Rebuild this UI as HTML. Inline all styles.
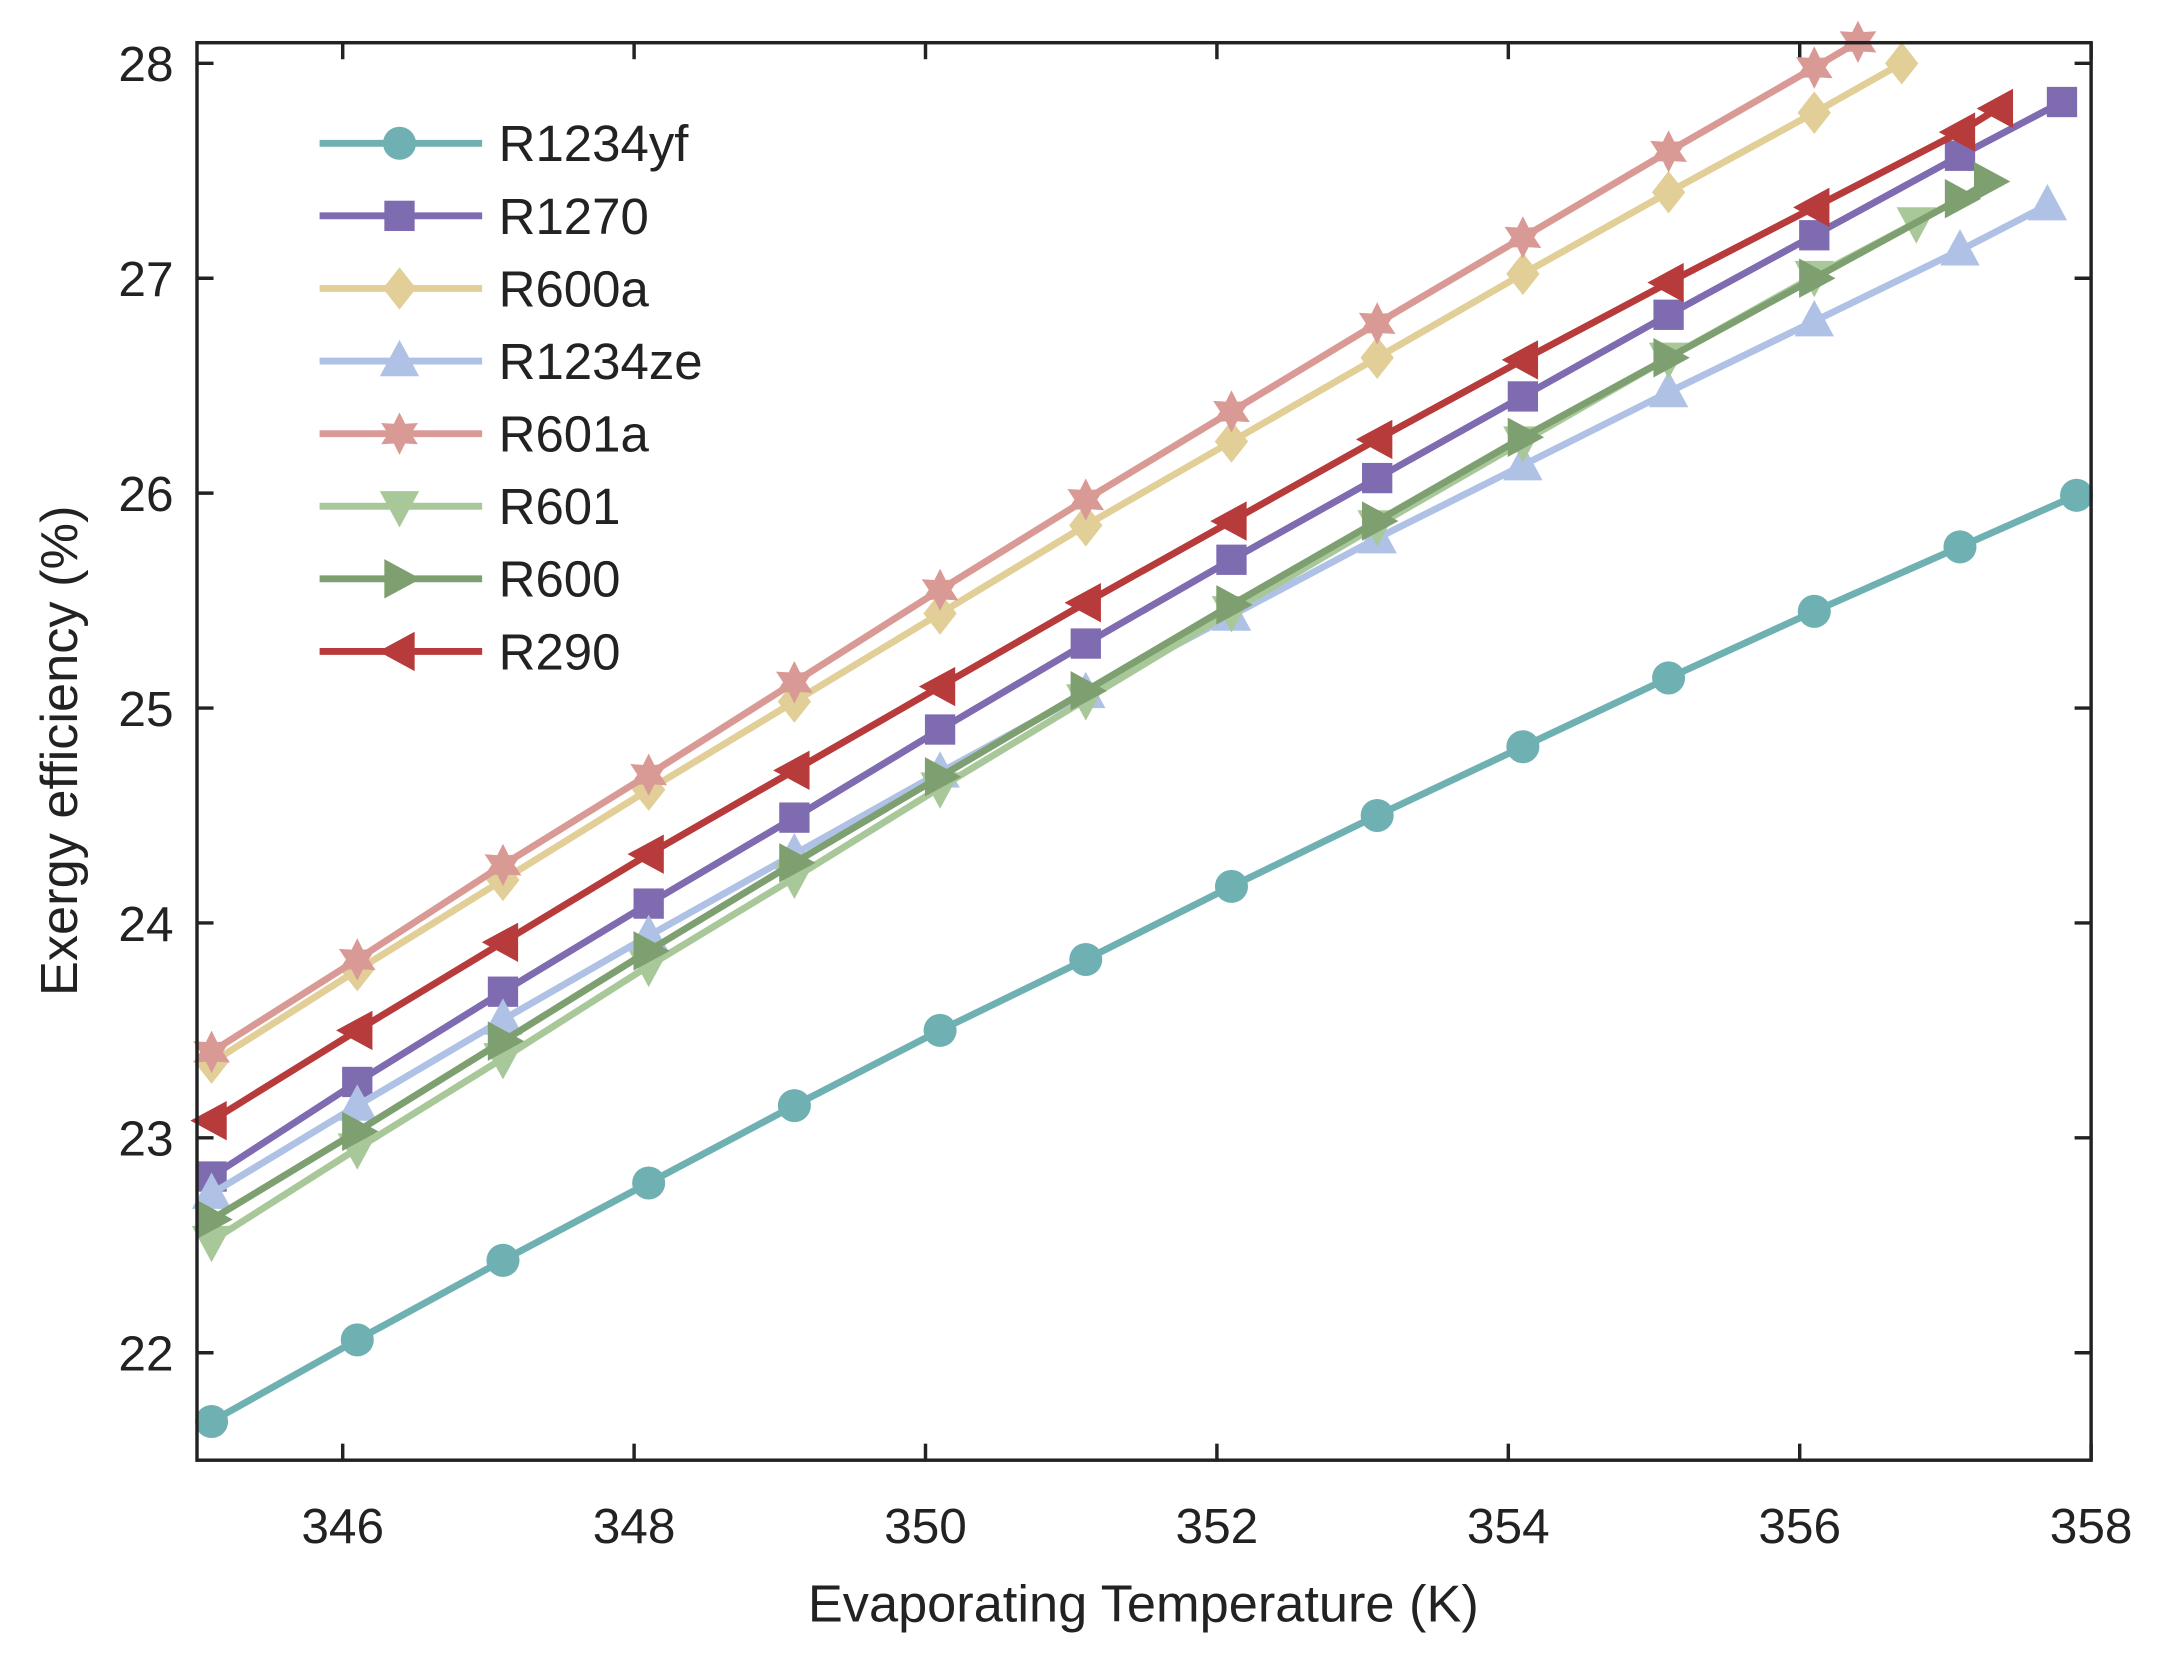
<!DOCTYPE html>
<html><head><meta charset="utf-8"><style>
html,body{margin:0;padding:0;background:#fff}
svg{display:block}
text{font-family:"Liberation Sans",Arial,sans-serif;fill:#222}
</style></head><body>
<svg id="chart" width="2160" height="1662" viewBox="0 0 1568 1206.5" xmlns="http://www.w3.org/2000/svg">
<rect x="0" y="0" width="1568" height="1206.5" fill="#fff"/>
<g id="ticks"></g>
<g id="series"></g>
<rect x="143" y="31" width="1375" height="1029" fill="none" stroke="#222" stroke-width="2.5"/>
<g id="legend"></g>
<text x="830" y="1177" font-size="38" text-anchor="middle">Evaporating Temperature (K)</text>
<text transform="translate(56,545) rotate(-90)" font-size="38" text-anchor="middle">Exergy efficiency (%)</text>
</svg>
<script>
const xTicks=[346,348,350,352,354,356,358];
const yTicks=[22,23,24,25,26,27,28];
const names=["R1234yf","R1270","R600a","R1234ze","R601a","R601","R600","R290"];
const colors=["#6FB0B2","#7E6BB0","#E2CF98","#AFC2E6","#D99A96","#A9C89A","#7E9F70","#B83B3B"];
const shapes=["circle","square","diamond","up","hex","down","right","left"];
const baseX=[345.1,346.1,347.1,348.1,349.1,350.1,351.1,352.1,353.1,354.1,355.1,356.1,357.1];
const xR1234yf=[...baseX,357.9];
const yR1234yf=[21.68,22.06,22.43,22.79,23.15,23.50,23.83,24.17,24.50,24.82,25.14,25.45,25.75,25.99];
const xR1270=[...baseX,357.8];
const yR1270=[22.82,23.26,23.68,24.09,24.49,24.90,25.30,25.69,26.07,26.45,26.83,27.20,27.57,27.82];
const xR600a=[...baseX.slice(0,12),356.7];
const yR600a=[23.35,23.78,24.20,24.62,25.03,25.44,25.85,26.24,26.63,27.02,27.40,27.77,28.00];
const xR1234ze=[...baseX,357.7];
const yR1234ze=[22.74,23.15,23.55,23.94,24.32,24.70,25.07,25.43,25.79,26.13,26.47,26.80,27.13,27.34];
const xR601a=[...baseX.slice(0,12),356.4];
const yR601a=[23.40,23.83,24.27,24.69,25.12,25.55,25.97,26.38,26.79,27.19,27.59,27.98,28.10];
const xR601=[...baseX.slice(0,12),356.8];
const yR601=[22.52,22.95,23.37,23.80,24.21,24.63,25.04,25.45,25.85,26.24,26.63,27.01,27.26];
const xR600=[...baseX,357.3];
const yR600=[22.62,23.03,23.45,23.87,24.28,24.68,25.08,25.48,25.87,26.26,26.63,27.00,27.37,27.45];
const xR290=[...baseX,357.36];
const yR290=[23.08,23.50,23.91,24.32,24.71,25.10,25.49,25.87,26.25,26.62,26.98,27.33,27.68,27.79];
const XS=[xR1234yf,xR1270,xR600a,xR1234ze,xR601a,xR601,xR600,xR290];
const YS=[yR1234yf,yR1270,yR600a,yR1234ze,yR601a,yR601,yR600,yR290];

const L=143,R=1518,T=31,B=1060,X0=345,X1=358,Y0=21.5,Y1=28.096;
const sx=v=>L+(v-X0)/(X1-X0)*(R-L);
const sy=v=>B-(v-Y0)/(Y1-Y0)*(B-T);
const NS="http://www.w3.org/2000/svg";
function mk(tag,attrs,parent){const e=document.createElementNS(NS,tag);for(const k in attrs)e.setAttribute(k,attrs[k]);parent.appendChild(e);return e;}
const tg=document.getElementById('ticks');
xTicks.forEach(t=>{
  const x=sx(t);
  const l1=mk('line',{x1:x,x2:x,y1:B,y2:B-12,stroke:'#222','stroke-width':2.5},tg);
  
  
  const l2=mk('line',{x1:x,x2:x,y1:T,y2:T+12,stroke:'#222','stroke-width':2.5},tg);
  
  
  const tx=mk('text',{x:x,y:1120,'font-size':36,'text-anchor':'middle'},tg);
  tx.textContent=t;
  
  
});
yTicks.forEach(t=>{
  const y=sy(t);
  const l1=mk('line',{x1:L,x2:L+12,y1:y,y2:y,stroke:'#222','stroke-width':2.5},tg);
  
  
  const l2=mk('line',{x1:R,x2:R-12,y1:y,y2:y,stroke:'#222','stroke-width':2.5},tg);
  
  
  const tx=mk('text',{x:126,y:y+13,'font-size':36,'text-anchor':'end'},tg);
  tx.textContent=t;
  
  
});
function marker(shape,x,y,c,parent){
  const s=1.1;let e;
  if(shape==='circle')e=mk('circle',{cx:x,cy:y,r:12},parent);
  else if(shape==='square')e=mk('rect',{x:x-11,y:y-11,width:22,height:22},parent);
  else{
    let pts=[];
    if(shape==='diamond')pts=[[0,-14],[11,0],[0,14],[-11,0]];
    else if(shape==='up')pts=[[0,-14],[13,10],[-13,10]];
    else if(shape==='down')pts=[[0,14],[13,-10],[-13,-10]];
    else if(shape==='right')pts=[[14,0],[-10,-13],[-10,13]];
    else if(shape==='left')pts=[[-14,0],[10,-13],[10,13]];
    else if(shape==='hex'){for(let i=0;i<12;i++){const a=-Math.PI/2+i*Math.PI/6;const rr=i%2?7.5:14;pts.push([rr*Math.cos(a),rr*Math.sin(a)]);}}
    e=mk('polygon',{points:pts.map(p=>(x+p[0]*s)+','+(y+p[1]*s)).join(' ')},parent);
  }
  e.setAttribute('fill',c);
  return e;
}
const sg=document.getElementById('series');
names.forEach((n,i)=>{
  const g=mk('g',{},sg);
  
  
  const pts=XS[i].map((x,j)=>sx(x)+','+sy(YS[i][j])).join(' ');
  const pl=mk('polyline',{points:pts,fill:'none',stroke:colors[i],'stroke-width':5,'stroke-linejoin':'round'},g);
  
  
  XS[i].forEach((x,j)=>{
    const m=marker(shapes[i],sx(x),sy(YS[i][j]),colors[i],g);
    
    
  });
});
const lg=document.getElementById('legend');
names.forEach((n,i)=>{
  const y=104+i*52.7;
  const g=mk('g',{},lg);
  
  
  mk('line',{x1:232,x2:350,y1:y,y2:y,stroke:colors[i],'stroke-width':5},g);
  marker(shapes[i],290,y,colors[i],g);
  const t=mk('text',{x:362,y:y+13,'font-size':37},g);
  t.textContent=n;
});
</script>
</body></html>
